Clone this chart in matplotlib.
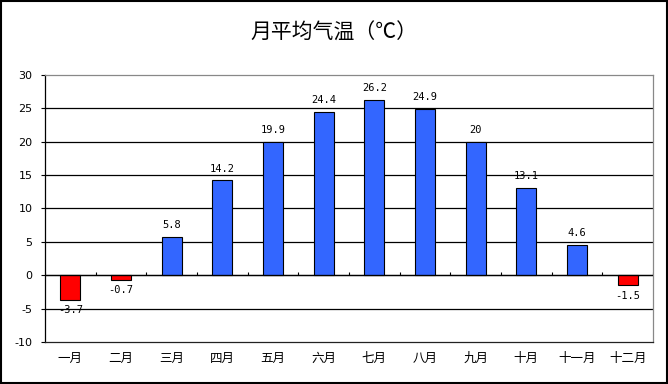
import matplotlib
matplotlib.use("Agg")
import matplotlib.pyplot as plt
from matplotlib.patches import Rectangle
import numpy as np

plt.rcParams['font.family'] = ['Noto Sans CJK SC', 'DejaVu Sans']

months = ["一月", "二月", "三月", "四月", "五月", "六月",
          "七月", "八月", "九月", "十月", "十一月", "十二月"]
temps = [-3.7, -0.7, 5.8, 14.2, 19.9, 24.4, 26.2, 24.9, 20, 13.1, 4.6, -1.5]
labels = ["-3.7", "-0.7", "5.8", "14.2", "19.9", "24.4", "26.2", "24.9", "20", "13.1", "4.6", "-1.5"]
yticks = [-10, -5, 0, 5, 10, 15, 20, 25, 30]

fig = plt.figure(figsize=(6.68, 3.84), dpi=100)
ax = fig.add_axes([0.0674, 0.1094, 0.9101, 0.6953])

x = np.arange(len(months))
colors = ["#FF0000" if v < 0 else "#3366FF" for v in temps]
ax.bar(x, temps, width=0.4, color=colors, edgecolor="black", linewidth=0.8, zorder=3)

for xi, v, lab in zip(x, temps, labels):
    if v >= 0:
        ax.annotate(lab, (xi, v), xytext=(0, 5), textcoords="offset points",
                    ha="center", va="bottom", fontsize=7.5, family="DejaVu Sans Mono")
    else:
        ax.annotate(lab, (xi, v), xytext=(0, -4), textcoords="offset points",
                    ha="center", va="top", fontsize=7.5, family="DejaVu Sans Mono")

ax.set_xlim(-0.5, len(months) - 0.5)
ax.set_ylim(yticks[0], yticks[-1])
ax.set_yticks(yticks)
ax.set_yticklabels([str(t) for t in yticks], fontsize=8, family="DejaVu Sans")
ax.set_xticks(x)
ax.set_xticklabels(months, fontsize=9)
ax.tick_params(axis="x", length=0, pad=7)
ax.tick_params(axis="y", length=3, width=0.8, pad=6)

for t in yticks[1:-1]:
    ax.axhline(t, color="black", linewidth=0.9, zorder=1)
ax.axhline(0, color="black", linewidth=0.9, zorder=4)
bounds = np.arange(len(months) + 1) - 0.5
ax.vlines(bounds, 0, 0.45, color="black", linewidth=0.8, zorder=4)

ax.spines["left"].set_color("black")
ax.spines["bottom"].set_color("#222222")
ax.spines["top"].set_color("#888888")
ax.spines["right"].set_color("#888888")
for s in ax.spines.values():
    s.set_linewidth(0.9)

fig.text(0.5, 0.915, "月平均气温（℃）", ha="center", va="center", fontsize=15)

fig.patches.append(Rectangle((0.001, 0.002), 0.997, 0.995, transform=fig.transFigure,
                             fill=False, edgecolor="black", linewidth=1.5))

fig.savefig("out.png", dpi=100)
